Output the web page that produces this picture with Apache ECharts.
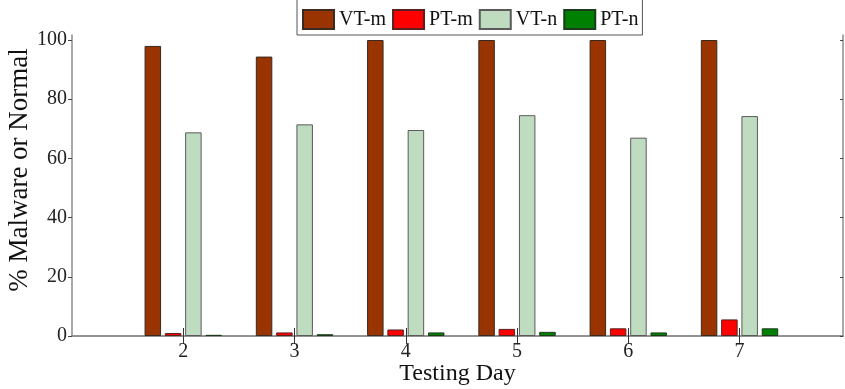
<!DOCTYPE html>
<html>
<head>
<meta charset="utf-8">
<script src="https://cdn.jsdelivr.net/npm/echarts@6/dist/echarts.min.js"></script>
<style>
  html, body { margin: 0; padding: 0; background: #fff; }
  #chart { width: 845px; height: 389px; }
</style>
</head>
<body>
<div id="chart"></div>
<script>
// Testing days on the x axis
const days = [2, 3, 4, 5, 6, 7];
// Percentages per day for each detector / sample type
const vtMalware = [98.0, 94.4, 100, 100, 100, 100];
const ptMalware = [1.0, 1.2, 2.2, 2.4, 2.6, 5.6];
const vtNormal = [68.8, 71.5, 69.6, 74.6, 67.0, 74.3];
const ptNormal = [0.4, 0.6, 1.2, 1.4, 1.2, 2.6];
const seriesNames = ['VT-m', 'PT-m', 'VT-n', 'PT-n'];
const yTicks = [0, 20, 40, 60, 80, 100];

const FONT = '"Liberation Serif", "Times New Roman", serif';
const AXIS_GRAY = '#8c8c8c';

const pairs = vals => days.map((d, i) => [d, vals[i]]);

const colors = ['#993300', '#ff0000', '#c0dcc0', '#008000'];
const borders = ['#3a2a20', '#5a2020', '#5a5a5a', '#1e3a1e'];
const allValues = [vtMalware, ptMalware, vtNormal, ptNormal];

const chart = echarts.init(document.getElementById('chart'), null, { renderer: 'canvas' });

chart.setOption({
  animation: false,
  backgroundColor: '#ffffff',
  textStyle: { fontFamily: FONT },
  grid: { left: 72, right: 2, top: 35, bottom: 53, show: false, containLabel: false, outerBoundsMode: 'none' },
  legend: {
    data: seriesNames,
    left: 297,
    top: -3,
    padding: [12, 4, 5, 5],
    itemGap: 6,
    itemWidth: 31,
    itemHeight: 19,
    backgroundColor: '#ffffff',
    borderColor: '#555555',
    borderWidth: 1,
    borderRadius: 0,
    textStyle: { fontFamily: FONT, fontSize: 20, color: '#111' },
    icon: 'rect'
  },
  xAxis: [
    {
      type: 'value',
      min: 1,
      max: 7.93,
      interval: 1,
      position: 'bottom',
      splitLine: { show: false },
      axisLine: { show: true, lineStyle: { color: AXIS_GRAY, width: 1.5 } },
      axisTick: { show: true, inside: true, length: 8, customValues: days, lineStyle: { color: '#333', width: 1 } },
      axisLabel: {
        fontFamily: FONT, fontSize: 20, color: '#222', margin: 6,
        customValues: days,
        formatter: v => String(v)
      },
      name: 'Testing Day',
      nameLocation: 'middle',
      nameGap: 26,
      nameMoveOverlap: false,
      nameTextStyle: { fontFamily: FONT, fontSize: 24, color: '#111' }
    },
    {
      type: 'value',
      min: 1,
      max: 7.93,
      interval: 1,
      position: 'top',
      splitLine: { show: false },
      axisLine: { show: true, lineStyle: { color: AXIS_GRAY, width: 1.5 } },
      axisTick: { show: true, inside: true, length: 8, customValues: days, lineStyle: { color: '#333', width: 1 } },
      axisLabel: { show: false }
    }
  ],
  yAxis: [
    {
      type: 'value',
      min: 0,
      max: 101.69,
      interval: 20,
      position: 'left',
      splitLine: { show: false },
      axisLine: { show: true, lineStyle: { color: AXIS_GRAY, width: 1.5 } },
      axisTick: { show: true, inside: false, length: 4, customValues: yTicks, lineStyle: { color: '#444', width: 1 } },
      axisLabel: {
        fontFamily: FONT, fontSize: 20, color: '#222', margin: 5,
        customValues: yTicks,
        formatter: v => String(v)
      }
    },
    {
      type: 'value',
      min: 0,
      max: 101.69,
      interval: 20,
      position: 'right',
      splitLine: { show: false },
      axisLine: { show: true, lineStyle: { color: AXIS_GRAY, width: 1.5 } },
      axisTick: { show: true, inside: true, length: 3, customValues: yTicks, lineStyle: { color: '#444', width: 1 } },
      axisLabel: { show: false }
    }
  ],
  graphic: [
    {
      type: 'text',
      rotation: Math.PI / 2,
      x: 20,
      y: 170,
      style: {
        text: '% Malware or Normal',
        fontFamily: FONT,
        fontSize: 27,
        fill: '#111',
        align: 'center',
        verticalAlign: 'middle'
      }
    }
  ],
  series: seriesNames.map((name, k) => ({
    name: name,
    type: 'bar',
    xAxisIndex: 0,
    yAxisIndex: 0,
    data: pairs(allValues[k]),
    barWidth: 16.5,
    barGap: '23%',
    itemStyle: { color: colors[k], borderColor: borders[k], borderWidth: 1 }
  }))
});
</script>
</body>
</html>
